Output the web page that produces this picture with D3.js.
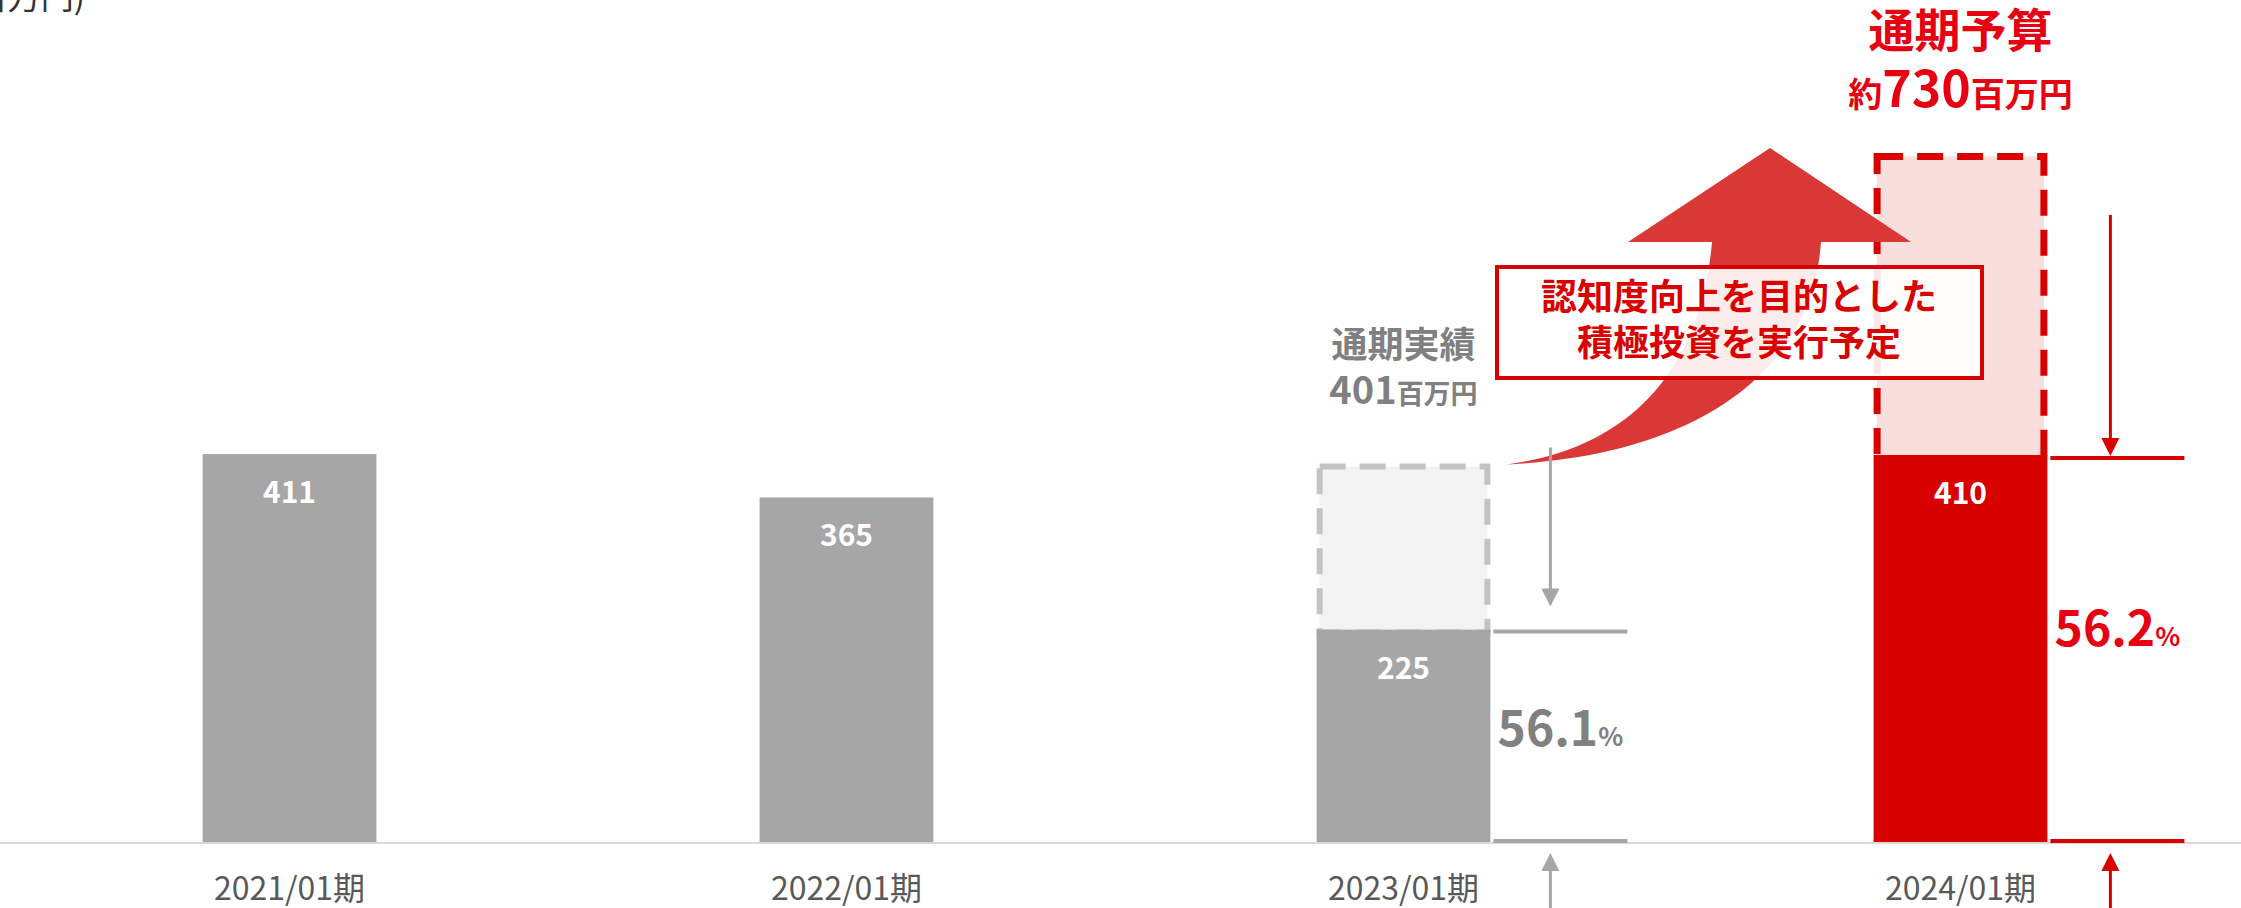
<!DOCTYPE html>
<html lang="ja">
<head>
<meta charset="utf-8">
<script src="https://cdn.jsdelivr.net/npm/d3@7"></script>
<style>
  html, body { margin: 0; padding: 0; background: #fff; }
  svg { display: block; font-family: "Noto Sans CJK JP", "Noto Sans", sans-serif; }
</style>
</head>
<body>
<svg id="chart" width="2241" height="908"></svg>
<script>
// Periods and first-half marketing spend (百万円)
const categories = ["2021/01期", "2022/01期", "2023/01期", "2024/01期"];
const halfValues = [411, 365, 225, 410];
// Full-year figure for the last two periods (actual / budget)
const fullYearValues = [null, null, 401, 730];
const fullYearTitles = [null, null, "通期実績", "通期予算"];
const fullYearPrefix = [null, null, "", "約"];
const unitLabel = "(百万円)";
const calloutLines = ["認知度向上を目的とした", "積極投資を実行予定"];

const W = 2241, H = 908;
const svg = d3.select("#chart");

const GRAY = "#a6a6a6", GRAY_TXT = "#808080", RED = "#d90000", RED_TXT = "#e60012";

const x = d3.scaleBand().domain(categories).range([11, 2239])
  .paddingInner(0.688).paddingOuter(0.344);
const y = d3.scaleLinear().domain([0, 892]).range([842, 0]);

// unit label (partially above the canvas)
svg.append("text").attr("x", 85).attr("y", 9).attr("text-anchor", "end")
  .attr("font-size", 33).attr("fill", "#333").text(unitLabel);

// baseline
svg.append("line").attr("x1", 0).attr("x2", W).attr("y1", y(0) + 1).attr("y2", y(0) + 1)
  .attr("stroke", "#d9d9d9").attr("stroke-width", 2);

const last = categories.length - 1;
const isLast = (i) => i === last;

// full-year outline boxes (dashed)
categories.forEach((c, i) => {
  const v = fullYearValues[i];
  if (v == null) return;
  const sw = isLast(i) ? 7 : 6;
  svg.append("rect")
    .attr("x", x(c) + sw / 2).attr("width", x.bandwidth() - sw)
    .attr("y", y(v) + sw / 2).attr("height", y(halfValues[i]) - y(v))
    .attr("fill", isLast(i) ? "#f9dede" : "#f3f3f3")
    .attr("stroke", isLast(i) ? RED : "#c3c3c3")
    .attr("stroke-width", sw).attr("stroke-dasharray", "26 14");
});

// solid bars
svg.selectAll("rect.bar").data(categories).join("rect").attr("class", "bar")
  .attr("x", (d) => x(d)).attr("width", x.bandwidth())
  .attr("y", (d, i) => y(halfValues[i]))
  .attr("height", (d, i) => y(0) - y(halfValues[i]))
  .attr("fill", (d, i) => isLast(i) ? RED : GRAY);

// value labels
svg.selectAll("text.val").data(categories).join("text").attr("class", "val")
  .attr("x", (d) => x(d) + x.bandwidth() / 2)
  .attr("y", (d, i) => y(halfValues[i]) + 49)
  .attr("text-anchor", "middle").attr("font-size", 30).attr("font-weight", 700)
  .attr("fill", "#fff").text((d, i) => halfValues[i]);

// category labels
svg.selectAll("text.cat").data(categories).join("text").attr("class", "cat")
  .attr("x", (d) => x(d) + x.bandwidth() / 2).attr("y", 900)
  .attr("text-anchor", "middle").attr("font-size", 32).attr("fill", "#595959")
  .text((d) => d);

// curved growth arrow
const cx2023 = x(categories[2]) + x.bandwidth();
const tailY = y(fullYearValues[2]);
const arrow = d3.path();
arrow.moveTo(cx2023 + 16, tailY + 1);
arrow.bezierCurveTo(1620, 450, 1700, 380, 1712, 242);
arrow.lineTo(1628, 242);
arrow.lineTo(1770, 148);
arrow.lineTo(1911, 242);
arrow.lineTo(1821, 242);
arrow.bezierCurveTo(1812, 370, 1700, 455, cx2023 + 16, tailY + 1);
arrow.closePath();
svg.append("path").attr("d", arrow.toString()).attr("fill", "#da3737");

// callout box
svg.append("rect").attr("x", 1497).attr("y", 267).attr("width", 485).attr("height", 111)
  .attr("fill", "#fff").attr("fill-opacity", 0.9)
  .attr("stroke", RED).attr("stroke-width", 4);
calloutLines.forEach((t, k) => {
  svg.append("text").attr("x", 1739).attr("y", 310 + k * 46).attr("text-anchor", "middle")
    .attr("font-size", 36).attr("font-weight", 700).attr("fill", RED).text(t);
});

// full-year titles and amounts
[2, 3].forEach((i) => {
  const cx = x(categories[i]) + x.bandwidth() / 2;
  const red = isLast(i);
  const col = red ? RED_TXT : GRAY_TXT;
  const y1 = red ? 47 : 358, y2 = red ? 107 : 404;
  svg.append("text").attr("x", cx).attr("y", y1).attr("text-anchor", "middle")
    .attr("font-size", red ? 46 : 36).attr("font-weight", 700).attr("fill", col)
    .text(fullYearTitles[i]);
  const t = svg.append("text").attr("x", cx).attr("y", y2).attr("text-anchor", "middle")
    .attr("font-weight", 700).attr("fill", col);
  if (fullYearPrefix[i]) t.append("tspan").attr("font-size", 34).text(fullYearPrefix[i]);
  t.append("tspan").attr("font-size", red ? 50 : 38).text(fullYearValues[i]);
  t.append("tspan").attr("font-size", red ? 34 : 27).text("百万円");
});

// ratio brackets: first half / full year
[2, 3].forEach((i) => {
  const red = isLast(i);
  const col = red ? RED : GRAY;
  const txtCol = red ? RED_TXT : GRAY_TXT;
  const right = x(categories[i]) + x.bandwidth();
  const lx1 = right + 3, lx2 = right + 137, ax = right + (red ? 63 : 60);
  const yTop = y(halfValues[i]) + (red ? 3 : 2);
  const yFull = y(fullYearValues[i]);
  const g = svg.append("g");
  [yTop, y(0) - 1].forEach((yy) => g.append("line").attr("x1", lx1).attr("x2", lx2)
    .attr("y1", yy).attr("y2", yy).attr("stroke", col).attr("stroke-width", 4));
  // downward arrow from the full-year level
  const dStart = red ? yFull + 62 : yFull - 16;
  const dTip = red ? yTop - 2 : yTop - 25;
  g.append("line").attr("x1", ax).attr("x2", ax).attr("y1", dStart).attr("y2", dTip - 10)
    .attr("stroke", col).attr("stroke-width", 3);
  g.append("path").attr("d", `M${ax - 9},${dTip - 18}L${ax + 9},${dTip - 18}L${ax},${dTip}Z`)
    .attr("fill", col);
  // upward arrow from below the baseline
  const uTip = y(0) + 11;
  g.append("line").attr("x1", ax).attr("x2", ax).attr("y1", uTip + 10).attr("y2", 908)
    .attr("stroke", col).attr("stroke-width", 3);
  g.append("path").attr("d", `M${ax - 9},${uTip + 18}L${ax + 9},${uTip + 18}L${ax},${uTip}Z`)
    .attr("fill", col);
  // ratio label
  const pct = (halfValues[i] / fullYearValues[i] * 100).toFixed(1);
  const mid = (yTop + y(0) - 1) / 2;
  const t = g.append("text").attr("x", (lx1 + lx2) / 2).attr("y", mid + (red ? -3 : 10))
    .attr("text-anchor", "middle").attr("font-weight", 700).attr("fill", txtCol);
  t.append("tspan").attr("font-size", 48).text(pct);
  t.append("tspan").attr("font-size", 26).text("%");
});
</script>
</body>
</html>
